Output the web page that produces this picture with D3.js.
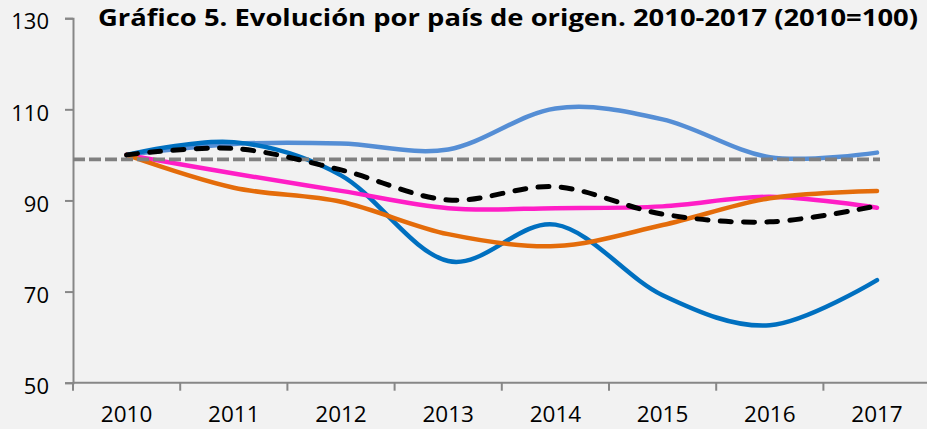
<!DOCTYPE html>
<html>
<head>
<meta charset="utf-8">
<script src="https://cdn.jsdelivr.net/npm/d3@7"></script>
<style>
  html, body { margin: 0; padding: 0; background: #f2f2f2; }
  svg { display: block; }
</style>
</head>
<body>
<div id="chart"></div>
<script>
// Datos (2010=100)
const years = [2010, 2011, 2012, 2013, 2014, 2015, 2016, 2017];
const yTicks = [50, 70, 90, 110, 130];

const serieAzulClaro = [100, 102.4, 102.5, 101.2, 110.2, 107.8, 99.5, 100.5];
const serieAzul = [100, 102.8, 95.5, 76.7, 84.7, 69.2, 62.6, 72.5];
const serieRosa = [100, 95.9, 92.1, 88.3, 88.3, 88.7, 90.8, 88.4];
const serieNaranja = [100, 92.8, 89.7, 82.6, 80.0, 84.6, 90.5, 92.1];
const serieTotal = [100, 101.4, 96.7, 90.1, 93.0, 87.0, 85.3, 88.8];
const referencia = 99;

const title = 'Gráfico 5. Evolución por país de origen. 2010-2017 (2010=100)';

const width = 927;
const height = 429;
const margin = { top: 18.2, left: 73, bottom: 46.3 };

const svg = d3.select('#chart')
    .append('svg')
    .attr('width', width)
    .attr('height', height)
    .style('font-family', '"Open Sans", sans-serif');

svg.append('rect')
    .attr('width', width)
    .attr('height', height)
    .attr('fill', '#f2f2f2');

// Escalas: las categorías ocupan bandas de igual ancho (marcas entre categorías)
const x = d3.scaleBand()
    .domain(years)
    .range([margin.left, margin.left + 8 * 107.2])
    .padding(0);

const y = d3.scaleLinear()
    .domain([50, 130])
    .range([height - margin.bottom, margin.top]);

const cx = d => x(d) + x.bandwidth() / 2;

// Eje Y
const yAxis = svg.append('g')
    .attr('transform', `translate(${margin.left},0)`)
    .call(d3.axisLeft(y).tickValues(yTicks).tickSize(8).tickPadding(16));
yAxis.select('.domain').attr('stroke', '#878787').attr('stroke-width', 2);
yAxis.selectAll('.tick line').attr('stroke', '#878787').attr('stroke-width', 2);
yAxis.selectAll('.tick text')
    .attr('dy', null)
    .attr('y', d => d === 130 ? 10 : 11)
    .attr('fill', '#000')
    .style('font-size', '22px')
    .style('font-family', '"Open Sans", sans-serif');

// Eje X: línea, marcas en los límites de banda y etiquetas centradas
const xAxis = svg.append('g')
    .attr('transform', `translate(0,${y(50)})`);
xAxis.append('line')
    .attr('x1', x.range()[0])
    .attr('x2', x.range()[1])
    .attr('stroke', '#878787')
    .attr('stroke-width', 2);
xAxis.selectAll('.xtick')
    .data(years)
    .enter()
    .append('line')
    .attr('class', 'xtick')
    .attr('x1', d => x(d))
    .attr('x2', d => x(d))
    .attr('y1', 0)
    .attr('y2', 8)
    .attr('stroke', '#878787')
    .attr('stroke-width', 2);
xAxis.selectAll('.xlabel')
    .data(years)
    .enter()
    .append('text')
    .attr('class', 'xlabel')
    .attr('x', d => cx(d))
    .attr('y', 39)
    .attr('text-anchor', 'middle')
    .style('font-size', '22.5px')
    .attr('fill', '#000')
    .text(d => d);

// Líneas suavizadas
const line = d3.line()
    .x((d, i) => cx(years[i]))
    .y(d => y(d))
    .curve(d3.curveCardinal.tension(0));

const series = [
    { values: serieAzulClaro, color: '#558ed5' },
    { values: serieAzul, color: '#0070c0' },
    { values: serieRosa, color: '#ff1ec6' },
    { values: serieNaranja, color: '#e46c0a' }
];

svg.selectAll('.serie')
    .data(series)
    .enter()
    .append('path')
    .attr('class', 'serie')
    .attr('d', d => line(d.values))
    .attr('fill', 'none')
    .attr('stroke', d => d.color)
    .attr('stroke-width', 4.5)
    .attr('stroke-linecap', 'round')
    .attr('stroke-linejoin', 'round');

// Línea de referencia gris discontinua
svg.append('line')
    .attr('x1', x.range()[0])
    .attr('x2', cx(years[years.length - 1]) + 3)
    .attr('y1', y(referencia))
    .attr('y2', y(referencia))
    .attr('stroke', '#808080')
    .attr('stroke-width', 3.7)
    .attr('stroke-dasharray', '12 4');

// Total: negro discontinuo
svg.append('path')
    .attr('d', line(serieTotal))
    .attr('fill', 'none')
    .attr('stroke', '#000')
    .attr('stroke-width', 5)
    .attr('stroke-linecap', 'round')
    .attr('stroke-dasharray', '11 12.3');

// Título
svg.append('text')
    .attr('x', 98)
    .attr('y', 26)
    .attr('textLength', 820)
    .attr('lengthAdjust', 'spacingAndGlyphs')
    .style('font-size', '23px')
    .style('font-weight', 'bold')
    .attr('fill', '#000')
    .text(title);
</script>
</body>
</html>
